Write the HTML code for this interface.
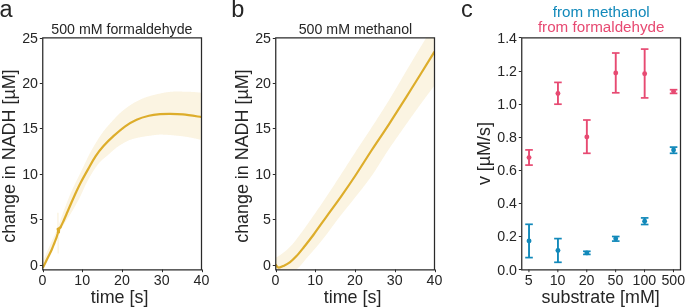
<!DOCTYPE html>
<html><head><meta charset="utf-8"><style>
html,body{margin:0;padding:0;background:#fff;}
svg{display:block;will-change:transform;}
text{font-family:"Liberation Sans",sans-serif;}
</style></head><body>
<svg width="685" height="307" viewBox="0 0 685 307">
<rect width="685" height="307" fill="#fff"/>
<clipPath id="clipa"><rect x="42.5" y="37.5" width="159.0" height="232.0"/></clipPath>
<clipPath id="clipb"><rect x="275.5" y="37.5" width="159.0" height="232.0"/></clipPath>
<clipPath id="clipc"><rect x="521.5" y="37.5" width="159.0" height="232.0"/></clipPath>
<g clip-path="url(#clipa)"><path d="M42.50,262.50 L43.00,261.30 L43.50,260.11 L44.00,258.93 L44.50,257.74 L45.00,256.56 L45.50,255.39 L46.00,254.22 L46.50,253.05 L47.00,251.89 L47.50,250.73 L48.00,249.58 L48.50,248.43 L49.00,247.28 L49.50,246.14 L50.00,245.00 L50.50,243.88 L51.00,242.77 L51.50,241.69 L52.00,240.62 L52.50,239.55 L53.00,238.48 L53.50,237.42 L54.00,236.35 L54.50,235.26 L55.00,234.16 L55.50,233.04 L56.00,231.89 L56.50,230.71 L57.00,229.50 L57.50,228.24 L58.00,226.93 L58.50,225.58 L59.00,224.20 L59.50,222.79 L60.00,221.37 L60.50,219.93 L61.00,218.49 L61.50,217.05 L62.00,215.63 L62.50,214.22 L63.00,212.84 L63.50,211.50 L64.00,210.18 L64.50,208.85 L65.00,207.53 L65.50,206.22 L66.00,204.91 L66.50,203.61 L67.00,202.32 L67.50,201.04 L68.00,199.78 L68.50,198.53 L69.00,197.29 L69.50,196.07 L70.00,194.87 L70.50,193.70 L71.00,192.54 L71.50,191.40 L72.00,190.28 L72.50,189.18 L73.00,188.09 L73.50,187.01 L74.00,185.94 L74.50,184.89 L75.00,183.84 L75.50,182.81 L76.00,181.78 L76.50,180.75 L77.00,179.73 L77.50,178.72 L78.00,177.71 L78.50,176.70 L79.00,175.69 L79.50,174.68 L80.00,173.67 L80.50,172.66 L81.00,171.64 L81.50,170.62 L82.00,169.59 L82.50,168.55 L83.00,167.50 L83.50,166.46 L84.00,165.40 L84.50,164.35 L85.00,163.29 L85.50,162.24 L86.00,161.19 L86.50,160.14 L87.00,159.10 L87.50,158.07 L88.00,157.05 L88.50,156.04 L89.00,155.04 L89.50,154.06 L90.00,153.10 L90.50,152.15 L91.00,151.22 L91.50,150.32 L92.00,149.43 L92.50,148.54 L93.00,147.67 L93.50,146.79 L94.00,145.93 L94.50,145.08 L95.00,144.23 L95.50,143.39 L96.00,142.56 L96.50,141.74 L97.00,140.93 L97.50,140.13 L98.00,139.34 L98.50,138.56 L99.00,137.79 L99.50,137.03 L100.00,136.28 L100.50,135.54 L101.00,134.82 L101.50,134.10 L102.00,133.40 L102.50,132.71 L103.00,132.03 L103.50,131.37 L104.00,130.71 L104.50,130.07 L105.00,129.44 L105.50,128.82 L106.00,128.21 L106.50,127.61 L107.00,127.01 L107.50,126.43 L108.00,125.85 L108.50,125.28 L109.00,124.71 L109.50,124.15 L110.00,123.59 L110.50,123.04 L111.00,122.49 L111.50,121.94 L112.00,121.40 L112.50,120.86 L113.00,120.31 L113.50,119.77 L114.00,119.23 L114.50,118.69 L115.00,118.15 L115.50,117.62 L116.00,117.09 L116.50,116.57 L117.00,116.05 L117.50,115.54 L118.00,115.03 L118.50,114.53 L119.00,114.04 L119.50,113.56 L120.00,113.09 L120.50,112.63 L121.00,112.18 L121.50,111.74 L122.00,111.31 L122.50,110.90 L123.00,110.49 L123.50,110.09 L124.00,109.70 L124.50,109.30 L125.00,108.91 L125.50,108.53 L126.00,108.15 L126.50,107.78 L127.00,107.40 L127.50,107.04 L128.00,106.68 L128.50,106.32 L129.00,105.97 L129.50,105.63 L130.00,105.29 L130.50,104.96 L131.00,104.63 L131.50,104.31 L132.00,103.99 L132.50,103.68 L133.00,103.38 L133.50,103.09 L134.00,102.80 L134.50,102.51 L135.00,102.24 L135.50,101.97 L136.00,101.70 L136.50,101.45 L137.00,101.20 L137.50,100.95 L138.00,100.70 L138.50,100.46 L139.00,100.22 L139.50,99.98 L140.00,99.74 L140.50,99.51 L141.00,99.28 L141.50,99.06 L142.00,98.84 L142.50,98.62 L143.00,98.41 L143.50,98.20 L144.00,98.00 L144.50,97.80 L145.00,97.61 L145.50,97.42 L146.00,97.24 L146.50,97.06 L147.00,96.89 L147.50,96.73 L148.00,96.57 L148.50,96.42 L149.00,96.27 L149.50,96.13 L150.00,96.00 L150.50,95.87 L151.00,95.74 L151.50,95.62 L152.00,95.49 L152.50,95.36 L153.00,95.23 L153.50,95.10 L154.00,94.98 L154.50,94.85 L155.00,94.72 L155.50,94.60 L156.00,94.47 L156.50,94.35 L157.00,94.23 L157.50,94.11 L158.00,93.99 L158.50,93.87 L159.00,93.75 L159.50,93.64 L160.00,93.53 L160.50,93.41 L161.00,93.31 L161.50,93.20 L162.00,93.10 L162.50,92.99 L163.00,92.89 L163.50,92.80 L164.00,92.71 L164.50,92.61 L165.00,92.53 L165.50,92.44 L166.00,92.36 L166.50,92.28 L167.00,92.21 L167.50,92.14 L168.00,92.07 L168.50,92.01 L169.00,91.95 L169.50,91.90 L170.00,91.85 L170.50,91.80 L171.00,91.76 L171.50,91.72 L172.00,91.69 L172.50,91.66 L173.00,91.64 L173.50,91.62 L174.00,91.61 L174.50,91.60 L175.00,91.60 L175.50,91.60 L176.00,91.60 L176.50,91.60 L177.00,91.60 L177.50,91.60 L178.00,91.60 L178.50,91.60 L179.00,91.60 L179.50,91.61 L180.00,91.61 L180.50,91.61 L181.00,91.61 L181.50,91.62 L182.00,91.62 L182.50,91.63 L183.00,91.63 L183.50,91.64 L184.00,91.65 L184.50,91.66 L185.00,91.67 L185.50,91.68 L186.00,91.69 L186.50,91.70 L187.00,91.71 L187.50,91.73 L188.00,91.74 L188.50,91.76 L189.00,91.78 L189.50,91.80 L190.00,91.82 L190.50,91.84 L191.00,91.87 L191.50,91.89 L192.00,91.92 L192.50,91.95 L193.00,91.98 L193.50,92.01 L194.00,92.04 L194.50,92.08 L195.00,92.12 L195.50,92.16 L196.00,92.20 L196.50,92.24 L197.00,92.29 L197.50,92.34 L198.00,92.39 L198.50,92.44 L199.00,92.49 L199.50,92.55 L200.00,92.61 L200.50,92.67 L201.00,92.73 L201.50,92.80 L201.50,140.00 L201.00,139.88 L200.50,139.76 L200.00,139.64 L199.50,139.52 L199.00,139.40 L198.50,139.28 L198.00,139.16 L197.50,139.05 L197.00,138.93 L196.50,138.82 L196.00,138.71 L195.50,138.60 L195.00,138.49 L194.50,138.38 L194.00,138.27 L193.50,138.17 L193.00,138.06 L192.50,137.96 L192.00,137.86 L191.50,137.76 L191.00,137.66 L190.50,137.57 L190.00,137.47 L189.50,137.38 L189.00,137.29 L188.50,137.20 L188.00,137.11 L187.50,137.03 L187.00,136.95 L186.50,136.86 L186.00,136.78 L185.50,136.71 L185.00,136.63 L184.50,136.56 L184.00,136.49 L183.50,136.42 L183.00,136.35 L182.50,136.29 L182.00,136.23 L181.50,136.17 L181.00,136.11 L180.50,136.05 L180.00,136.00 L179.50,135.95 L179.00,135.90 L178.50,135.84 L178.00,135.79 L177.50,135.74 L177.00,135.69 L176.50,135.64 L176.00,135.59 L175.50,135.54 L175.00,135.49 L174.50,135.44 L174.00,135.39 L173.50,135.34 L173.00,135.29 L172.50,135.25 L172.00,135.20 L171.50,135.16 L171.00,135.11 L170.50,135.07 L170.00,135.03 L169.50,134.99 L169.00,134.95 L168.50,134.91 L168.00,134.88 L167.50,134.85 L167.00,134.81 L166.50,134.78 L166.00,134.76 L165.50,134.73 L165.00,134.71 L164.50,134.69 L164.00,134.67 L163.50,134.65 L163.00,134.63 L162.50,134.62 L162.00,134.61 L161.50,134.61 L161.00,134.60 L160.50,134.60 L160.00,134.60 L159.50,134.62 L159.00,134.64 L158.50,134.66 L158.00,134.70 L157.50,134.74 L157.00,134.78 L156.50,134.83 L156.00,134.89 L155.50,134.95 L155.00,135.01 L154.50,135.07 L154.00,135.14 L153.50,135.21 L153.00,135.28 L152.50,135.35 L152.00,135.42 L151.50,135.49 L151.00,135.56 L150.50,135.63 L150.00,135.70 L149.50,135.77 L149.00,135.83 L148.50,135.90 L148.00,135.97 L147.50,136.04 L147.00,136.12 L146.50,136.19 L146.00,136.26 L145.50,136.34 L145.00,136.42 L144.50,136.50 L144.00,136.58 L143.50,136.66 L143.00,136.74 L142.50,136.83 L142.00,136.92 L141.50,137.01 L141.00,137.10 L140.50,137.20 L140.00,137.29 L139.50,137.39 L139.00,137.49 L138.50,137.60 L138.00,137.70 L137.50,137.81 L137.00,137.93 L136.50,138.04 L136.00,138.16 L135.50,138.28 L135.00,138.40 L134.50,138.53 L134.00,138.66 L133.50,138.79 L133.00,138.93 L132.50,139.07 L132.00,139.22 L131.50,139.38 L131.00,139.54 L130.50,139.72 L130.00,139.91 L129.50,140.11 L129.00,140.32 L128.50,140.54 L128.00,140.76 L127.50,141.00 L127.00,141.24 L126.50,141.49 L126.00,141.74 L125.50,142.01 L125.00,142.28 L124.50,142.55 L124.00,142.84 L123.50,143.12 L123.00,143.41 L122.50,143.71 L122.00,144.01 L121.50,144.31 L121.00,144.62 L120.50,144.93 L120.00,145.24 L119.50,145.56 L119.00,145.87 L118.50,146.19 L118.00,146.53 L117.50,146.88 L117.00,147.24 L116.50,147.62 L116.00,148.01 L115.50,148.40 L115.00,148.81 L114.50,149.23 L114.00,149.65 L113.50,150.09 L113.00,150.52 L112.50,150.96 L112.00,151.41 L111.50,151.86 L111.00,152.31 L110.50,152.76 L110.00,153.21 L109.50,153.65 L109.00,154.10 L108.50,154.54 L108.00,154.98 L107.50,155.41 L107.00,155.84 L106.50,156.26 L106.00,156.67 L105.50,157.08 L105.00,157.48 L104.50,157.89 L104.00,158.30 L103.50,158.72 L103.00,159.15 L102.50,159.58 L102.00,160.03 L101.50,160.49 L101.00,160.98 L100.50,161.48 L100.00,162.00 L99.50,162.55 L99.00,163.13 L98.50,163.74 L98.00,164.37 L97.50,165.02 L97.00,165.69 L96.50,166.39 L96.00,167.10 L95.50,167.82 L95.00,168.55 L94.50,169.30 L94.00,170.05 L93.50,170.80 L93.00,171.58 L92.50,172.37 L92.00,173.17 L91.50,174.00 L91.00,174.83 L90.50,175.69 L90.00,176.55 L89.50,177.44 L89.00,178.33 L88.50,179.24 L88.00,180.16 L87.50,181.10 L87.00,182.04 L86.50,183.00 L86.00,183.99 L85.50,185.01 L85.00,186.08 L84.50,187.17 L84.00,188.28 L83.50,189.40 L83.00,190.52 L82.50,191.65 L82.00,192.77 L81.50,193.87 L81.00,194.95 L80.50,195.99 L80.00,197.00 L79.50,197.98 L79.00,198.95 L78.50,199.90 L78.00,200.84 L77.50,201.77 L77.00,202.69 L76.50,203.60 L76.00,204.50 L75.50,205.40 L75.00,206.28 L74.50,207.17 L74.00,208.04 L73.50,208.91 L73.00,209.78 L72.50,210.64 L72.00,211.50 L71.50,212.35 L71.00,213.19 L70.50,214.01 L70.00,214.82 L69.50,215.61 L69.00,216.40 L68.50,217.19 L68.00,217.96 L67.50,218.73 L67.00,219.50 L66.50,220.27 L66.00,221.04 L65.50,221.81 L65.00,222.59 L64.50,223.38 L64.00,224.17 L63.50,224.97 L63.00,225.78 L62.50,226.61 L62.00,227.45 L61.50,228.31 L61.00,229.19 L60.50,230.08 L60.00,231.00 L59.50,231.94 L59.00,232.91 L58.50,233.89 L58.00,234.90 L57.50,235.93 L57.00,236.97 L56.50,238.03 L56.00,239.10 L55.50,240.19 L55.00,241.29 L54.50,242.39 L54.00,243.51 L53.50,244.63 L53.00,245.75 L52.50,246.88 L52.00,248.01 L51.50,249.13 L51.00,250.26 L50.50,251.38 L50.00,252.50 L49.50,253.62 L49.00,254.74 L48.50,255.87 L48.00,257.00 L47.50,258.14 L47.00,259.29 L46.50,260.44 L46.00,261.59 L45.50,262.75 L45.00,263.92 L44.50,265.08 L44.00,266.26 L43.50,267.43 L43.00,268.62 L42.50,269.80 Z" fill="#fbf4e2"/>
<path d="M57.2,212.7 L58.6,212.7 L58.9,253.6 L57.5,253.6 Z" fill="#fbf4e2"/>
<path d="M43.10,267.20 C43.82,265.77 45.97,261.52 47.40,258.60 C48.83,255.68 50.53,252.30 51.70,249.70 C52.87,247.10 53.60,245.02 54.40,243.00 C55.20,240.98 55.97,239.10 56.50,237.60 C57.03,236.10 57.42,234.60 57.60,234.00 L58.2,230.8 L57.6,228.9 L60.3,227.6" fill="none" stroke="#ddad2b" stroke-width="2.2" stroke-linejoin="round" stroke-linecap="round"/>
<path d="M57.4,228.7 L60.3,228.2 L59.9,233.2 L57.7,233.6 Z" fill="#ddad2b"/>
<path d="M60.30,227.60 C60.77,226.65 61.90,224.53 63.10,221.90 C64.30,219.27 66.05,215.15 67.50,211.80 C68.95,208.45 70.35,205.10 71.80,201.80 C73.25,198.50 74.68,195.25 76.20,192.00 C77.72,188.75 78.93,186.07 80.90,182.30 C82.87,178.53 85.57,173.73 88.00,169.40 C90.43,165.07 92.92,160.20 95.50,156.30 C98.08,152.40 100.47,149.40 103.50,146.00 C106.53,142.60 110.08,139.18 113.70,135.90 C117.32,132.62 121.38,129.00 125.20,126.30 C129.02,123.60 132.65,121.45 136.60,119.70 C140.55,117.95 145.00,116.72 148.90,115.80 C152.80,114.88 156.48,114.53 160.00,114.20 C163.52,113.87 166.17,113.77 170.00,113.80 C173.83,113.83 177.75,113.85 183.00,114.40 C188.25,114.95 198.42,116.65 201.50,117.10" fill="none" stroke="#ddad2b" stroke-width="2.2" stroke-linejoin="round" stroke-linecap="round"/>
</g>
<g clip-path="url(#clipb)"><path d="M275.50,257.80 L276.00,257.54 L276.50,257.27 L277.00,256.99 L277.50,256.70 L278.00,256.40 L278.50,256.09 L279.00,255.78 L279.50,255.46 L280.00,255.13 L280.50,254.79 L281.00,254.44 L281.50,254.09 L282.00,253.73 L282.50,253.37 L283.00,253.00 L283.50,252.62 L284.00,252.23 L284.50,251.84 L285.00,251.43 L285.50,251.01 L286.00,250.58 L286.50,250.15 L287.00,249.70 L287.50,249.25 L288.00,248.78 L288.50,248.31 L289.00,247.83 L289.50,247.34 L290.00,246.84 L290.50,246.33 L291.00,245.81 L291.50,245.29 L292.00,244.74 L292.50,244.18 L293.00,243.60 L293.50,243.00 L294.00,242.39 L294.50,241.77 L295.00,241.13 L295.50,240.49 L296.00,239.84 L296.50,239.18 L297.00,238.51 L297.50,237.85 L298.00,237.17 L298.50,236.50 L299.00,235.83 L299.50,235.16 L300.00,234.50 L300.50,233.84 L301.00,233.17 L301.50,232.49 L302.00,231.82 L302.50,231.14 L303.00,230.45 L303.50,229.76 L304.00,229.07 L304.50,228.38 L305.00,227.68 L305.50,226.98 L306.00,226.28 L306.50,225.57 L307.00,224.87 L307.50,224.16 L308.00,223.45 L308.50,222.74 L309.00,222.02 L309.50,221.31 L310.00,220.59 L310.50,219.88 L311.00,219.16 L311.50,218.45 L312.00,217.73 L312.50,217.02 L313.00,216.30 L313.50,215.58 L314.00,214.87 L314.50,214.15 L315.00,213.43 L315.50,212.71 L316.00,211.99 L316.50,211.26 L317.00,210.54 L317.50,209.81 L318.00,209.09 L318.50,208.36 L319.00,207.63 L319.50,206.90 L320.00,206.17 L320.50,205.44 L321.00,204.70 L321.50,203.97 L322.00,203.23 L322.50,202.49 L323.00,201.75 L323.50,201.01 L324.00,200.27 L324.50,199.53 L325.00,198.79 L325.50,198.04 L326.00,197.30 L326.50,196.55 L327.00,195.80 L327.50,195.05 L328.00,194.30 L328.50,193.55 L329.00,192.79 L329.50,192.03 L330.00,191.27 L330.50,190.51 L331.00,189.75 L331.50,188.99 L332.00,188.23 L332.50,187.46 L333.00,186.70 L333.50,185.93 L334.00,185.17 L334.50,184.40 L335.00,183.63 L335.50,182.86 L336.00,182.09 L336.50,181.32 L337.00,180.55 L337.50,179.79 L338.00,179.02 L338.50,178.25 L339.00,177.48 L339.50,176.71 L340.00,175.94 L340.50,175.17 L341.00,174.40 L341.50,173.62 L342.00,172.85 L342.50,172.08 L343.00,171.30 L343.50,170.52 L344.00,169.75 L344.50,168.97 L345.00,168.19 L345.50,167.42 L346.00,166.64 L346.50,165.86 L347.00,165.08 L347.50,164.30 L348.00,163.52 L348.50,162.74 L349.00,161.96 L349.50,161.18 L350.00,160.40 L350.50,159.63 L351.00,158.85 L351.50,158.07 L352.00,157.30 L352.50,156.52 L353.00,155.74 L353.50,154.97 L354.00,154.20 L354.50,153.42 L355.00,152.65 L355.50,151.88 L356.00,151.11 L356.50,150.35 L357.00,149.58 L357.50,148.82 L358.00,148.05 L358.50,147.29 L359.00,146.53 L359.50,145.77 L360.00,145.02 L360.50,144.26 L361.00,143.50 L361.50,142.75 L362.00,142.00 L362.50,141.24 L363.00,140.49 L363.50,139.74 L364.00,138.98 L364.50,138.23 L365.00,137.48 L365.50,136.72 L366.00,135.97 L366.50,135.21 L367.00,134.46 L367.50,133.70 L368.00,132.95 L368.50,132.19 L369.00,131.43 L369.50,130.67 L370.00,129.91 L370.50,129.15 L371.00,128.38 L371.50,127.62 L372.00,126.85 L372.50,126.08 L373.00,125.31 L373.50,124.54 L374.00,123.76 L374.50,122.99 L375.00,122.21 L375.50,121.44 L376.00,120.66 L376.50,119.89 L377.00,119.11 L377.50,118.34 L378.00,117.56 L378.50,116.78 L379.00,116.00 L379.50,115.22 L380.00,114.44 L380.50,113.66 L381.00,112.87 L381.50,112.09 L382.00,111.30 L382.50,110.51 L383.00,109.73 L383.50,108.94 L384.00,108.14 L384.50,107.35 L385.00,106.56 L385.50,105.76 L386.00,104.96 L386.50,104.16 L387.00,103.36 L387.50,102.55 L388.00,101.75 L388.50,100.94 L389.00,100.13 L389.50,99.32 L390.00,98.50 L390.50,97.68 L391.00,96.86 L391.50,96.03 L392.00,95.21 L392.50,94.37 L393.00,93.54 L393.50,92.70 L394.00,91.86 L394.50,91.02 L395.00,90.17 L395.50,89.33 L396.00,88.48 L396.50,87.63 L397.00,86.78 L397.50,85.92 L398.00,85.07 L398.50,84.21 L399.00,83.36 L399.50,82.50 L400.00,81.64 L400.50,80.78 L401.00,79.93 L401.50,79.07 L402.00,78.21 L402.50,77.35 L403.00,76.50 L403.50,75.64 L404.00,74.79 L404.50,73.93 L405.00,73.08 L405.50,72.23 L406.00,71.38 L406.50,70.53 L407.00,69.69 L407.50,68.84 L408.00,68.00 L408.50,67.16 L409.00,66.32 L409.50,65.48 L410.00,64.64 L410.50,63.80 L411.00,62.97 L411.50,62.13 L412.00,61.29 L412.50,60.46 L413.00,59.62 L413.50,58.78 L414.00,57.95 L414.50,57.11 L415.00,56.28 L415.50,55.44 L416.00,54.61 L416.50,53.78 L417.00,52.94 L417.50,52.11 L418.00,51.28 L418.50,50.45 L419.00,49.61 L419.50,48.78 L420.00,47.95 L420.50,47.12 L421.00,46.29 L421.50,45.46 L422.00,44.63 L422.50,43.80 L423.00,42.97 L423.50,42.14 L424.00,41.31 L424.50,40.48 L425.00,39.66 L425.50,38.83 L426.00,38.00 L426.50,37.17 L427.00,36.35 L427.50,35.52 L428.00,34.69 L428.50,33.87 L429.00,33.04 L429.50,32.22 L430.00,31.40 L430.50,30.57 L431.00,29.75 L431.50,28.93 L432.00,28.11 L432.50,27.28 L433.00,26.46 L433.50,25.64 L434.00,24.82 L434.50,24.00 L434.50,85.60 L434.00,86.25 L433.50,86.91 L433.00,87.57 L432.50,88.22 L432.00,88.88 L431.50,89.54 L431.00,90.20 L430.50,90.86 L430.00,91.53 L429.50,92.19 L429.00,92.86 L428.50,93.52 L428.00,94.19 L427.50,94.86 L427.00,95.53 L426.50,96.20 L426.00,96.87 L425.50,97.54 L425.00,98.21 L424.50,98.89 L424.00,99.56 L423.50,100.24 L423.00,100.92 L422.50,101.59 L422.00,102.27 L421.50,102.95 L421.00,103.63 L420.50,104.32 L420.00,105.00 L419.50,105.68 L419.00,106.37 L418.50,107.06 L418.00,107.75 L417.50,108.44 L417.00,109.13 L416.50,109.82 L416.00,110.51 L415.50,111.21 L415.00,111.90 L414.50,112.60 L414.00,113.30 L413.50,114.00 L413.00,114.70 L412.50,115.40 L412.00,116.10 L411.50,116.80 L411.00,117.51 L410.50,118.21 L410.00,118.92 L409.50,119.62 L409.00,120.33 L408.50,121.03 L408.00,121.74 L407.50,122.45 L407.00,123.16 L406.50,123.87 L406.00,124.57 L405.50,125.28 L405.00,125.99 L404.50,126.70 L404.00,127.41 L403.50,128.12 L403.00,128.83 L402.50,129.54 L402.00,130.25 L401.50,130.96 L401.00,131.67 L400.50,132.38 L400.00,133.09 L399.50,133.80 L399.00,134.51 L398.50,135.22 L398.00,135.94 L397.50,136.65 L397.00,137.37 L396.50,138.08 L396.00,138.80 L395.50,139.52 L395.00,140.24 L394.50,140.96 L394.00,141.69 L393.50,142.41 L393.00,143.14 L392.50,143.86 L392.00,144.59 L391.50,145.32 L391.00,146.06 L390.50,146.79 L390.00,147.53 L389.50,148.27 L389.00,149.01 L388.50,149.75 L388.00,150.50 L387.50,151.25 L387.00,152.01 L386.50,152.77 L386.00,153.54 L385.50,154.32 L385.00,155.10 L384.50,155.88 L384.00,156.67 L383.50,157.46 L383.00,158.26 L382.50,159.06 L382.00,159.85 L381.50,160.65 L381.00,161.45 L380.50,162.26 L380.00,163.06 L379.50,163.86 L379.00,164.65 L378.50,165.45 L378.00,166.25 L377.50,167.04 L377.00,167.82 L376.50,168.61 L376.00,169.39 L375.50,170.16 L375.00,170.93 L374.50,171.69 L374.00,172.45 L373.50,173.20 L373.00,173.94 L372.50,174.68 L372.00,175.40 L371.50,176.12 L371.00,176.82 L370.50,177.52 L370.00,178.22 L369.50,178.91 L369.00,179.59 L368.50,180.27 L368.00,180.95 L367.50,181.62 L367.00,182.29 L366.50,182.95 L366.00,183.61 L365.50,184.26 L365.00,184.92 L364.50,185.57 L364.00,186.21 L363.50,186.86 L363.00,187.50 L362.50,188.14 L362.00,188.77 L361.50,189.41 L361.00,190.04 L360.50,190.67 L360.00,191.30 L359.50,191.93 L359.00,192.56 L358.50,193.19 L358.00,193.82 L357.50,194.45 L357.00,195.08 L356.50,195.71 L356.00,196.34 L355.50,196.97 L355.00,197.60 L354.50,198.24 L354.00,198.87 L353.50,199.51 L353.00,200.14 L352.50,200.77 L352.00,201.40 L351.50,202.03 L351.00,202.65 L350.50,203.27 L350.00,203.89 L349.50,204.51 L349.00,205.13 L348.50,205.75 L348.00,206.37 L347.50,206.99 L347.00,207.60 L346.50,208.22 L346.00,208.84 L345.50,209.46 L345.00,210.07 L344.50,210.69 L344.00,211.32 L343.50,211.94 L343.00,212.56 L342.50,213.19 L342.00,213.82 L341.50,214.45 L341.00,215.08 L340.50,215.72 L340.00,216.36 L339.50,217.00 L339.00,217.65 L338.50,218.30 L338.00,218.95 L337.50,219.61 L337.00,220.28 L336.50,220.94 L336.00,221.61 L335.50,222.29 L335.00,222.96 L334.50,223.64 L334.00,224.32 L333.50,225.00 L333.00,225.68 L332.50,226.36 L332.00,227.05 L331.50,227.73 L331.00,228.41 L330.50,229.09 L330.00,229.77 L329.50,230.45 L329.00,231.13 L328.50,231.80 L328.00,232.48 L327.50,233.15 L327.00,233.81 L326.50,234.48 L326.00,235.14 L325.50,235.79 L325.00,236.45 L324.50,237.09 L324.00,237.73 L323.50,238.37 L323.00,239.00 L322.50,239.62 L322.00,240.24 L321.50,240.86 L321.00,241.48 L320.50,242.09 L320.00,242.70 L319.50,243.30 L319.00,243.90 L318.50,244.50 L318.00,245.10 L317.50,245.70 L317.00,246.29 L316.50,246.88 L316.00,247.47 L315.50,248.05 L315.00,248.63 L314.50,249.22 L314.00,249.79 L313.50,250.37 L313.00,250.95 L312.50,251.52 L312.00,252.09 L311.50,252.66 L311.00,253.23 L310.50,253.80 L310.00,254.36 L309.50,254.93 L309.00,255.49 L308.50,256.05 L308.00,256.61 L307.50,257.18 L307.00,257.77 L306.50,258.37 L306.00,258.97 L305.50,259.58 L305.00,260.20 L304.50,260.82 L304.00,261.44 L303.50,262.06 L303.00,262.67 L302.50,263.28 L302.00,263.87 L301.50,264.46 L301.00,265.03 L300.50,265.58 L300.00,266.12 L299.50,266.64 L299.00,267.13 L298.50,267.59 L298.00,268.03 L297.50,268.44 L297.00,268.81 L296.50,269.15 L296.00,269.46 L295.50,269.74 L295.00,270.01 L294.50,270.26 L294.00,270.50 L293.50,270.73 L293.00,270.94 L292.50,271.15 L292.00,271.34 L291.50,271.52 L291.00,271.69 L290.50,271.85 L290.00,272.00 L289.50,272.15 L289.00,272.29 L288.50,272.43 L288.00,272.58 L287.50,272.72 L287.00,272.86 L286.50,273.00 L286.00,273.13 L285.50,273.26 L285.00,273.39 L284.50,273.52 L284.00,273.64 L283.50,273.76 L283.00,273.88 L282.50,273.99 L282.00,274.10 L281.50,274.20 L281.00,274.30 L280.50,274.39 L280.00,274.48 L279.50,274.56 L279.00,274.64 L278.50,274.71 L278.00,274.78 L277.50,274.84 L277.00,274.89 L276.50,274.93 L276.00,274.97 L275.50,275.00 Z" fill="#fbf4e2"/>
<path d="M275.60,264.60 C276.10,265.10 277.20,267.42 278.60,267.60 C280.00,267.78 282.08,266.62 284.00,265.70 C285.92,264.78 288.02,263.70 290.10,262.10 C292.18,260.50 294.18,258.62 296.50,256.10 C298.82,253.58 301.13,250.60 304.00,247.00 C306.87,243.40 309.92,239.62 313.70,234.50 C317.48,229.38 322.15,222.62 326.70,216.30 C331.25,209.98 336.27,203.32 341.00,196.60 C345.73,189.88 349.97,183.77 355.10,176.00 C360.23,168.23 366.17,158.62 371.80,150.00 C377.43,141.38 382.37,134.38 388.90,124.30 C395.43,114.22 403.40,101.60 411.00,89.50 C418.60,77.40 430.58,58.00 434.50,51.70" fill="none" stroke="#ddad2b" stroke-width="2.2" stroke-linejoin="round"/>
</g>
<line x1="529.03" y1="149.9" x2="529.03" y2="165.1" stroke="#e74a72" stroke-width="1.9"/>
<line x1="525.23" y1="149.9" x2="532.83" y2="149.9" stroke="#e74a72" stroke-width="1.7"/>
<line x1="525.23" y1="165.1" x2="532.83" y2="165.1" stroke="#e74a72" stroke-width="1.7"/>
<circle cx="529.03" cy="157.6" r="2.45" fill="#e74a72"/>
<line x1="557.94" y1="82.4" x2="557.94" y2="104.2" stroke="#e74a72" stroke-width="1.9"/>
<line x1="554.14" y1="82.4" x2="561.74" y2="82.4" stroke="#e74a72" stroke-width="1.7"/>
<line x1="554.14" y1="104.2" x2="561.74" y2="104.2" stroke="#e74a72" stroke-width="1.7"/>
<circle cx="557.94" cy="93.5" r="2.45" fill="#e74a72"/>
<line x1="586.85" y1="120" x2="586.85" y2="153.3" stroke="#e74a72" stroke-width="1.9"/>
<line x1="583.05" y1="120" x2="590.65" y2="120" stroke="#e74a72" stroke-width="1.7"/>
<line x1="583.05" y1="153.3" x2="590.65" y2="153.3" stroke="#e74a72" stroke-width="1.7"/>
<circle cx="586.85" cy="136.9" r="2.45" fill="#e74a72"/>
<line x1="615.75" y1="53" x2="615.75" y2="92.8" stroke="#e74a72" stroke-width="1.9"/>
<line x1="611.95" y1="53" x2="619.55" y2="53" stroke="#e74a72" stroke-width="1.7"/>
<line x1="611.95" y1="92.8" x2="619.55" y2="92.8" stroke="#e74a72" stroke-width="1.7"/>
<circle cx="615.75" cy="73" r="2.45" fill="#e74a72"/>
<line x1="644.66" y1="49.1" x2="644.66" y2="97.9" stroke="#e74a72" stroke-width="1.9"/>
<line x1="640.86" y1="49.1" x2="648.46" y2="49.1" stroke="#e74a72" stroke-width="1.7"/>
<line x1="640.86" y1="97.9" x2="648.46" y2="97.9" stroke="#e74a72" stroke-width="1.7"/>
<circle cx="644.66" cy="73.7" r="2.45" fill="#e74a72"/>
<line x1="673.57" y1="89.7" x2="673.57" y2="93.4" stroke="#e74a72" stroke-width="1.9"/>
<line x1="669.77" y1="89.7" x2="677.37" y2="89.7" stroke="#e74a72" stroke-width="1.7"/>
<line x1="669.77" y1="93.4" x2="677.37" y2="93.4" stroke="#e74a72" stroke-width="1.7"/>
<circle cx="673.57" cy="91.5" r="2.45" fill="#e74a72"/>
<line x1="529.03" y1="224.3" x2="529.03" y2="257.6" stroke="#1289ba" stroke-width="1.9"/>
<line x1="525.23" y1="224.3" x2="532.83" y2="224.3" stroke="#1289ba" stroke-width="1.7"/>
<line x1="525.23" y1="257.6" x2="532.83" y2="257.6" stroke="#1289ba" stroke-width="1.7"/>
<circle cx="529.03" cy="240.9" r="2.45" fill="#1289ba"/>
<line x1="557.94" y1="238.6" x2="557.94" y2="262.3" stroke="#1289ba" stroke-width="1.9"/>
<line x1="554.14" y1="238.6" x2="561.74" y2="238.6" stroke="#1289ba" stroke-width="1.7"/>
<line x1="554.14" y1="262.3" x2="561.74" y2="262.3" stroke="#1289ba" stroke-width="1.7"/>
<circle cx="557.94" cy="250.5" r="2.45" fill="#1289ba"/>
<line x1="586.85" y1="251.3" x2="586.85" y2="254.4" stroke="#1289ba" stroke-width="1.9"/>
<line x1="583.05" y1="251.3" x2="590.65" y2="251.3" stroke="#1289ba" stroke-width="1.7"/>
<line x1="583.05" y1="254.4" x2="590.65" y2="254.4" stroke="#1289ba" stroke-width="1.7"/>
<circle cx="586.85" cy="252.9" r="2.45" fill="#1289ba"/>
<line x1="615.75" y1="236.5" x2="615.75" y2="241.1" stroke="#1289ba" stroke-width="1.9"/>
<line x1="611.95" y1="236.5" x2="619.55" y2="236.5" stroke="#1289ba" stroke-width="1.7"/>
<line x1="611.95" y1="241.1" x2="619.55" y2="241.1" stroke="#1289ba" stroke-width="1.7"/>
<circle cx="615.75" cy="238.7" r="2.45" fill="#1289ba"/>
<line x1="644.66" y1="217.9" x2="644.66" y2="224.5" stroke="#1289ba" stroke-width="1.9"/>
<line x1="640.86" y1="217.9" x2="648.46" y2="217.9" stroke="#1289ba" stroke-width="1.7"/>
<line x1="640.86" y1="224.5" x2="648.46" y2="224.5" stroke="#1289ba" stroke-width="1.7"/>
<circle cx="644.66" cy="221.2" r="2.45" fill="#1289ba"/>
<line x1="673.57" y1="147.1" x2="673.57" y2="153.3" stroke="#1289ba" stroke-width="1.9"/>
<line x1="669.77" y1="147.1" x2="677.37" y2="147.1" stroke="#1289ba" stroke-width="1.7"/>
<line x1="669.77" y1="153.3" x2="677.37" y2="153.3" stroke="#1289ba" stroke-width="1.7"/>
<circle cx="673.57" cy="150" r="2.45" fill="#1289ba"/>
<path d="M42.75,37.125 V270.375 M42.125,269.75 H202.125 M201.5,270.375 V37.125 M202.125,37.75 H42.125" fill="none" stroke="#2a2a2a" stroke-width="1.25"/>
<path d="M275.75,37.125 V270.375 M275.125,269.75 H435.125 M434.5,270.375 V37.125 M435.125,37.75 H275.125" fill="none" stroke="#2a2a2a" stroke-width="1.25"/>
<path d="M521.75,37.125 V270.375 M521.125,269.75 H681.125 M680.5,270.375 V37.125 M681.125,37.75 H521.125" fill="none" stroke="#2a2a2a" stroke-width="1.25"/>
<line x1="39.8" y1="265.50" x2="42.5" y2="265.50" stroke="#2a2a2a" stroke-width="1"/>
<text x="38.00" y="269.95" font-size="14.2" text-anchor="end" fill="#262626" >0</text>
<line x1="39.8" y1="219.50" x2="42.5" y2="219.50" stroke="#2a2a2a" stroke-width="1"/>
<text x="38.00" y="224.46" font-size="14.2" text-anchor="end" fill="#262626" >5</text>
<line x1="39.8" y1="174.50" x2="42.5" y2="174.50" stroke="#2a2a2a" stroke-width="1"/>
<text x="38.00" y="178.97" font-size="14.2" text-anchor="end" fill="#262626" >10</text>
<line x1="39.8" y1="128.50" x2="42.5" y2="128.50" stroke="#2a2a2a" stroke-width="1"/>
<text x="38.00" y="133.48" font-size="14.2" text-anchor="end" fill="#262626" >15</text>
<line x1="39.8" y1="83.50" x2="42.5" y2="83.50" stroke="#2a2a2a" stroke-width="1"/>
<text x="38.00" y="87.99" font-size="14.2" text-anchor="end" fill="#262626" >20</text>
<line x1="39.8" y1="38.50" x2="42.5" y2="38.50" stroke="#2a2a2a" stroke-width="1"/>
<text x="38.00" y="42.50" font-size="14.2" text-anchor="end" fill="#262626" >25</text>
<line x1="43.50" y1="269.5" x2="43.50" y2="272.2" stroke="#2a2a2a" stroke-width="1"/>
<text x="42.50" y="284.60" font-size="14.2" text-anchor="middle" fill="#262626" >0</text>
<line x1="82.50" y1="269.5" x2="82.50" y2="272.2" stroke="#2a2a2a" stroke-width="1"/>
<text x="82.25" y="284.60" font-size="14.2" text-anchor="middle" fill="#262626" >10</text>
<line x1="122.50" y1="269.5" x2="122.50" y2="272.2" stroke="#2a2a2a" stroke-width="1"/>
<text x="122.00" y="284.60" font-size="14.2" text-anchor="middle" fill="#262626" >20</text>
<line x1="162.50" y1="269.5" x2="162.50" y2="272.2" stroke="#2a2a2a" stroke-width="1"/>
<text x="161.75" y="284.60" font-size="14.2" text-anchor="middle" fill="#262626" >30</text>
<line x1="202.50" y1="269.5" x2="202.50" y2="272.2" stroke="#2a2a2a" stroke-width="1"/>
<text x="201.50" y="284.60" font-size="14.2" text-anchor="middle" fill="#262626" >40</text>
<text x="15.10" y="0.00" font-size="17.9" text-anchor="middle" fill="#262626" transform="translate(15.10,156.1) rotate(-90) translate(-15.10,0)">change in NADH [µM]</text>
<text x="119.60" y="302.90" font-size="17.9" text-anchor="middle" fill="#262626" >time [s]</text>
<line x1="272.8" y1="265.50" x2="275.5" y2="265.50" stroke="#2a2a2a" stroke-width="1"/>
<text x="271.00" y="269.95" font-size="14.2" text-anchor="end" fill="#262626" >0</text>
<line x1="272.8" y1="219.50" x2="275.5" y2="219.50" stroke="#2a2a2a" stroke-width="1"/>
<text x="271.00" y="224.46" font-size="14.2" text-anchor="end" fill="#262626" >5</text>
<line x1="272.8" y1="174.50" x2="275.5" y2="174.50" stroke="#2a2a2a" stroke-width="1"/>
<text x="271.00" y="178.97" font-size="14.2" text-anchor="end" fill="#262626" >10</text>
<line x1="272.8" y1="128.50" x2="275.5" y2="128.50" stroke="#2a2a2a" stroke-width="1"/>
<text x="271.00" y="133.48" font-size="14.2" text-anchor="end" fill="#262626" >15</text>
<line x1="272.8" y1="83.50" x2="275.5" y2="83.50" stroke="#2a2a2a" stroke-width="1"/>
<text x="271.00" y="87.99" font-size="14.2" text-anchor="end" fill="#262626" >20</text>
<line x1="272.8" y1="38.50" x2="275.5" y2="38.50" stroke="#2a2a2a" stroke-width="1"/>
<text x="271.00" y="42.50" font-size="14.2" text-anchor="end" fill="#262626" >25</text>
<line x1="276.50" y1="269.5" x2="276.50" y2="272.2" stroke="#2a2a2a" stroke-width="1"/>
<text x="275.50" y="284.60" font-size="14.2" text-anchor="middle" fill="#262626" >0</text>
<line x1="315.50" y1="269.5" x2="315.50" y2="272.2" stroke="#2a2a2a" stroke-width="1"/>
<text x="315.25" y="284.60" font-size="14.2" text-anchor="middle" fill="#262626" >10</text>
<line x1="355.50" y1="269.5" x2="355.50" y2="272.2" stroke="#2a2a2a" stroke-width="1"/>
<text x="355.00" y="284.60" font-size="14.2" text-anchor="middle" fill="#262626" >20</text>
<line x1="395.50" y1="269.5" x2="395.50" y2="272.2" stroke="#2a2a2a" stroke-width="1"/>
<text x="394.75" y="284.60" font-size="14.2" text-anchor="middle" fill="#262626" >30</text>
<line x1="435.50" y1="269.5" x2="435.50" y2="272.2" stroke="#2a2a2a" stroke-width="1"/>
<text x="434.50" y="284.60" font-size="14.2" text-anchor="middle" fill="#262626" >40</text>
<text x="248.10" y="0.00" font-size="17.9" text-anchor="middle" fill="#262626" transform="translate(248.10,156.1) rotate(-90) translate(-248.10,0)">change in NADH [µM]</text>
<text x="352.60" y="302.90" font-size="17.9" text-anchor="middle" fill="#262626" >time [s]</text>
<line x1="518.8" y1="269.50" x2="521.5" y2="269.50" stroke="#2a2a2a" stroke-width="1"/>
<text x="517.00" y="274.50" font-size="14.2" text-anchor="end" fill="#262626" >0.0</text>
<line x1="518.8" y1="236.50" x2="521.5" y2="236.50" stroke="#2a2a2a" stroke-width="1"/>
<text x="517.00" y="241.36" font-size="14.2" text-anchor="end" fill="#262626" >0.2</text>
<line x1="518.8" y1="203.50" x2="521.5" y2="203.50" stroke="#2a2a2a" stroke-width="1"/>
<text x="517.00" y="208.21" font-size="14.2" text-anchor="end" fill="#262626" >0.4</text>
<line x1="518.8" y1="170.50" x2="521.5" y2="170.50" stroke="#2a2a2a" stroke-width="1"/>
<text x="517.00" y="175.07" font-size="14.2" text-anchor="end" fill="#262626" >0.6</text>
<line x1="518.8" y1="137.50" x2="521.5" y2="137.50" stroke="#2a2a2a" stroke-width="1"/>
<text x="517.00" y="141.93" font-size="14.2" text-anchor="end" fill="#262626" >0.8</text>
<line x1="518.8" y1="104.50" x2="521.5" y2="104.50" stroke="#2a2a2a" stroke-width="1"/>
<text x="517.00" y="108.79" font-size="14.2" text-anchor="end" fill="#262626" >1.0</text>
<line x1="518.8" y1="71.50" x2="521.5" y2="71.50" stroke="#2a2a2a" stroke-width="1"/>
<text x="517.00" y="75.64" font-size="14.2" text-anchor="end" fill="#262626" >1.2</text>
<line x1="518.8" y1="37.50" x2="521.5" y2="37.50" stroke="#2a2a2a" stroke-width="1"/>
<text x="517.00" y="42.50" font-size="14.2" text-anchor="end" fill="#262626" >1.4</text>
<line x1="528.93" y1="269.5" x2="528.93" y2="272.2" stroke="#2a2a2a" stroke-width="1"/>
<text x="528.73" y="284.60" font-size="14.2" text-anchor="middle" fill="#262626" >5</text>
<line x1="557.84" y1="269.5" x2="557.84" y2="272.2" stroke="#2a2a2a" stroke-width="1"/>
<text x="557.64" y="284.60" font-size="14.2" text-anchor="middle" fill="#262626" >10</text>
<line x1="586.75" y1="269.5" x2="586.75" y2="272.2" stroke="#2a2a2a" stroke-width="1"/>
<text x="586.55" y="284.60" font-size="14.2" text-anchor="middle" fill="#262626" >20</text>
<line x1="615.65" y1="269.5" x2="615.65" y2="272.2" stroke="#2a2a2a" stroke-width="1"/>
<text x="615.45" y="284.60" font-size="14.2" text-anchor="middle" fill="#262626" >50</text>
<line x1="644.56" y1="269.5" x2="644.56" y2="272.2" stroke="#2a2a2a" stroke-width="1"/>
<text x="644.36" y="284.60" font-size="14.2" text-anchor="middle" fill="#262626" >100</text>
<line x1="673.47" y1="269.5" x2="673.47" y2="272.2" stroke="#2a2a2a" stroke-width="1"/>
<text x="673.27" y="284.60" font-size="14.2" text-anchor="middle" fill="#262626" >500</text>
<text x="490.40" y="0.00" font-size="17.9" text-anchor="middle" fill="#262626" transform="translate(490.4,153.6) rotate(-90) translate(-490.4,0)">v [µM/s]</text>
<text x="600.70" y="302.90" font-size="17.9" text-anchor="middle" fill="#262626" >substrate [mM]</text>
<text x="121.90" y="33.60" font-size="14.2" text-anchor="middle" fill="#262626" >500 mM formaldehyde</text>
<text x="355.50" y="33.60" font-size="14.2" text-anchor="middle" fill="#262626" >500 mM methanol</text>
<text x="601.20" y="16.90" font-size="15.2" text-anchor="middle" fill="#1289ba" >from methanol</text>
<text x="601.20" y="31.90" font-size="15.2" text-anchor="middle" fill="#e74a72" >from formaldehyde</text>
<text x="-0.50" y="17.10" font-size="23.5" text-anchor="start" fill="#262626" >a</text>
<text x="231.30" y="17.10" font-size="23.5" text-anchor="start" fill="#262626" >b</text>
<text x="461.00" y="17.10" font-size="23.5" text-anchor="start" fill="#262626" >c</text>
</svg>
</body></html>
